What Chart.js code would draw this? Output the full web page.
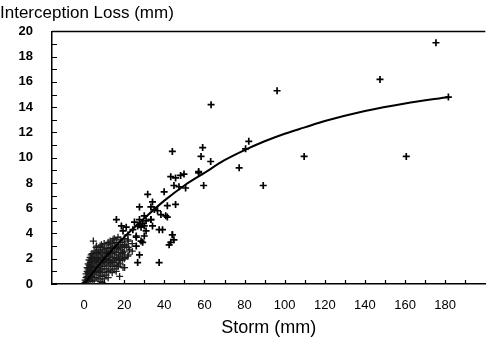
<!DOCTYPE html>
<html>
<head>
<meta charset="utf-8">
<script src="https://cdn.jsdelivr.net/npm/chart.js@4"></script>
<style>
  html, body { margin: 0; padding: 0; background: #fff; }
  #wrap { width: 491px; height: 341px; }
</style>
</head>
<body>
<div id="wrap"><canvas id="myChart" width="491" height="341"></canvas></div>
<script>
// storm size (mm) and interception loss (mm)
const stormX = [
  0.5, 0.5, 1, 1, 1, 1.5, 1.5, 1.5, 1.5, 2, 2, 2, 2, 2,
  2.5, 2.5, 2.5, 2.5, 2.5, 3, 3, 3, 3, 3, 3, 3.5, 3.5, 3.5, 3.5, 3.5,
  4, 4, 4, 4, 4, 4, 5, 5, 5, 5, 5, 5, 5, 6, 6, 6, 6, 6, 6, 6,
  7, 7, 7, 7, 7, 7, 7, 8, 8, 8, 8, 8, 8, 8, 8, 9, 9, 9, 9, 9, 9, 9,
  10, 10, 10, 10, 10, 10, 10, 11, 11, 11, 11, 11, 11,
  12, 12, 12, 12, 12, 12, 12, 13, 13, 13, 13, 13, 13,
  14, 14, 14, 14, 14, 14, 15, 15, 15, 15, 15, 15, 16, 16, 16, 16, 16, 16,
  17, 17, 17, 17, 17, 18, 18, 18, 18, 18, 19, 19, 19, 19, 20, 20, 20, 20,
  22, 22, 22, 24, 24,
  4.6, 6.2, 8.7, 12, 14.4, 16.9, 21.8, 24.3, 30.9, 20.2, 17.7, 11.2, 12.8, 9.5,
  17.7, 7.9, 3.8, 19.4, 16.9, 21, 22.7,
  44, 43.2, 45.6, 48.1, 49.8, 57.1, 44.8, 47.3, 50.6, 31.7, 39.9,
  34.1, 33.3, 35, 27.6, 41.5, 45.6, 30, 27.6, 30.9, 36.6, 38.3, 40.7, 41.5,
  33.3, 25.1, 27.6, 30, 28.4, 34.1, 39.1, 21, 19.4, 44, 44.8, 42.4,
  26, 30, 26, 29.2, 21.8, 20.2, 27.6, 26.7, 37.4, 20.2, 19.4, 21.8,
  16.1, 18.6, 26.7, 29.2, 33.3, 26, 28.4, 37.4, 44, 43.2,
  59.1, 58.3, 63.1, 57.1, 59.6, 63.3, 77.3, 80.5, 82.1, 89.3, 96.2, 109.7,
  147.5, 160.6, 175.4, 181.6
];
const lossY = [
  0.1, 0.3, 0.2, 0.5, 0.8, 0.3, 0.6, 1.0, 1.3, 0.2, 0.5, 0.9, 1.2, 1.6,
  0.4, 0.8, 1.1, 1.5, 1.9, 0.3, 0.6, 1.0, 1.4, 1.7, 2.1, 0.5, 0.9, 1.3, 1.8, 2.3,
  0.2, 0.7, 1.1, 1.5, 2.0, 2.4, 0.3, 0.8, 1.2, 1.6, 1.9, 2.2, 2.6, 0.5, 1.0, 1.4, 1.8, 2.1, 2.5, 2.9,
  0.4, 0.9, 1.3, 1.7, 2.0, 2.4, 2.7, 0.2, 0.7, 1.1, 1.5, 1.9, 2.3, 2.6, 3.0, 0.1, 0.6, 1.2, 1.6, 2.1, 2.5, 2.9,
  0.4, 0.9, 1.4, 1.8, 2.2, 2.7, 3.2, 0.7, 1.2, 1.7, 2.0, 2.4, 2.8,
  0.5, 1.0, 1.5, 1.9, 2.3, 2.6, 3.1, 1.1, 1.6, 2.2, 2.5, 2.9, 3.4,
  0.9, 1.4, 1.8, 2.4, 2.8, 3.2, 1.2, 1.7, 2.1, 2.6, 3.0, 3.6, 1.0, 1.5, 2.0, 2.5, 2.9, 3.3,
  1.4, 1.9, 2.3, 2.8, 3.1, 1.6, 2.2, 2.7, 3.0, 3.5, 1.9, 2.4, 2.9, 3.3, 2.0, 2.6, 3.1, 3.6,
  2.3, 2.9, 3.4, 2.6, 3.2,
  3.4, 3.0, 3.1, 3.3, 3.5, 3.7, 3.9, 4.3, 4.2, 2.1, 1.9, 2.5, 1.9, 1.9,
  0.6, 1.0, 0.6, 1.3, 1.4, 3.0, 2.7,
  10.5, 8.5, 8.4, 8.6, 8.7, 8.9, 7.8, 7.7, 7.6, 7.1, 7.3,
  6.5, 6.1, 5.9, 6.1, 6.2, 6.3, 5.4, 5.1, 5.0, 5.8, 5.5, 5.4, 5.3,
  5.1, 4.9, 4.7, 4.6, 4.5, 4.6, 4.3, 4.5, 4.2, 3.9, 3.5, 3.1,
  3.8, 3.8, 3.0, 3.3, 3.5, 3.1, 2.3, 1.7, 1.7, 1.3, 2.5, 2.2,
  5.1, 4.6, 4.6, 4.8, 5.1, 3.7, 3.4, 4.3, 3.9, 3.3,
  10.8, 10.1, 9.7, 8.8, 7.8, 14.2, 9.2, 10.7, 11.3, 7.8, 15.3, 10.1,
  16.2, 10.1, 19.1, 14.8
];
// fitted curve
const curveX = [0, 10, 20, 30, 40, 50, 60, 70, 80, 90, 100, 110, 120, 140, 160, 182];
const curveY = [0, 2.0, 3.7, 5.2, 6.6, 7.8, 8.8, 9.8, 10.6, 11.3, 11.9, 12.4, 12.9, 13.7, 14.3, 14.8];
const xTickLabels = [0, 20, 40, 60, 80, 100, 120, 140, 160, 180];
const yTickLabels = [0, 2, 4, 6, 8, 10, 12, 14, 16, 18, 20];

const points = stormX.map((x, i) => ({ x: x, y: lossY[i] }));
const curve = curveX.map((x, i) => ({ x: x, y: curveY[i] }));

const fontFam = "'Liberation Sans', Arial, sans-serif";

// frame top line and small inward tick marks
const frame = {
  id: 'frame',
  afterDraw(chart) {
    const c = chart.ctx, a = chart.chartArea;
    const xs = chart.scales.x, ys = chart.scales.y;
    c.save();
    c.strokeStyle = '#000';
    c.lineWidth = 1.5;
    c.beginPath();
    c.moveTo(a.left, a.top);
    c.lineTo(a.right, a.top);
    c.stroke();
    c.lineWidth = 1.2;
    c.beginPath();
    for (let v = 0; v <= 19; v++) {
      const py = Math.round(ys.getPixelForValue(v)) + 0.5;
      c.moveTo(a.left, py);
      c.lineTo(a.left + 5, py);
    }
    for (let v = 10; v <= 190; v += 10) {
      const px = Math.round(xs.getPixelForValue(v)) + 0.5;
      c.moveTo(px, a.bottom);
      c.lineTo(px, a.bottom - 4);
    }
    c.stroke();
    c.restore();
  }
};

const dense = c => c.raw && c.raw.x < 25 && c.raw.y < 4;

const ctx = document.getElementById('myChart').getContext('2d');
const myChart = new Chart(ctx, {
  type: 'scatter',
  data: {
    datasets: [{
      label: 'Curve',
      type: 'line',
      data: curve,
      borderColor: '#000',
      borderWidth: 2,
      pointRadius: 0,
      fill: false,
      cubicInterpolationMode: 'monotone'
    }, {
      label: 'Storms',
      data: points,
      pointStyle: 'cross',
      pointRadius: 3.5,
      borderColor: c => (dense(c) ? '#1a1a1a' : '#000'),
      backgroundColor: '#000',
      borderWidth: c => (dense(c) ? 1.3 : 1.7)
    }]
  },
  options: {
    responsive: false,
    animation: false,
    layout: { padding: { left: 0, right: 1, top: 0, bottom: 0 } },
    plugins: {
      legend: { display: false },
      tooltip: { enabled: false },
      title: {
        display: true,
        text: 'Interception Loss (mm)',
        align: 'start',
        color: '#000',
        font: { family: fontFam, size: 17, weight: 'normal' },
        padding: { top: 3, bottom: 8 }
      }
    },
    scales: {
      x: {
        type: 'linear',
        min: -16,
        max: 200,
        afterFit: s => { s.height = 57; },
        afterBuildTicks: s => { s.ticks = xTickLabels.map(v => ({ value: v })); },
        grid: { display: false, drawTicks: false },
        border: { display: true, color: '#000', width: 1.5 },
        ticks: { color: '#000', padding: 14, font: { family: fontFam, size: 13 } },
        title: {
          display: true,
          text: 'Storm (mm)',
          color: '#000',
          font: { family: fontFam, size: 18 },
          padding: { top: 2, bottom: 2 }
        }
      },
      y: {
        type: 'linear',
        min: 0,
        max: 20,
        afterFit: s => { s.width = 52; },
        afterBuildTicks: s => { s.ticks = yTickLabels.map(v => ({ value: v })); },
        grid: { display: false, drawTicks: false },
        border: { display: true, color: '#000', width: 1.5 },
        ticks: { color: '#000', padding: 19, font: { family: fontFam, size: 13, weight: 'bold' } }
      }
    }
  },
  plugins: [frame]
});
</script>
</body>
</html>
